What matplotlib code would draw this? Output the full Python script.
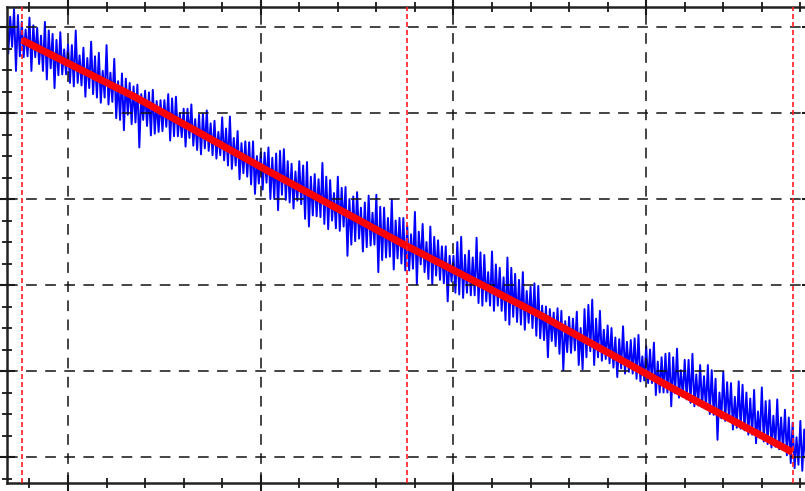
import numpy as np
import matplotlib
matplotlib.use("Agg")
import matplotlib.pyplot as plt
from matplotlib.ticker import MultipleLocator

# noisy signal: upper and lower swings, one pair per time unit
t_start = -16
sig_hi = [52.0, 51.2, 52.1, 51.4, 50.6, 49.7, 51.1, 50.2, 49.9, 49.0,
          50.6, 49.6, 49.2, 48.5, 49.4, 47.4, 48.0, 47.9, 49.6, 46.7,
          47.6, 46.4, 48.3, 46.6, 47.0, 44.9, 47.9, 44.7, 46.3, 43.7,
          44.6, 44.0, 43.5, 43.1, 43.3, 42.2, 42.6, 42.4, 42.7, 41.4,
          41.5, 41.5, 42.2, 41.7, 41.9, 40.0, 40.5, 40.5, 41.0, 39.3,
          39.8, 39.9, 40.3, 38.8, 39.1, 37.8, 39.5, 38.2, 39.6, 37.1,
          37.9, 36.5, 36.7, 36.6, 36.7, 35.0, 35.4, 35.4, 36.0, 34.8,
          35.3, 35.6, 35.8, 34.4, 34.1, 33.2, 34.4, 33.9, 34.3, 32.6,
          32.9, 32.3, 34.2, 32.6, 32.2, 30.7, 32.6, 31.3, 31.4, 30.0,
          30.3, 30.8, 29.0, 29.6, 30.4, 28.4, 30.5, 29.1, 29.0, 27.8,
          29.9, 27.5, 27.8, 27.8, 26.9, 25.9, 28.5, 26.2, 27.1, 25.0,
          26.8, 25.6, 25.2, 24.5, 24.5, 23.4, 23.4, 25.0, 25.6, 23.5,
          24.0, 23.2, 25.5, 23.8, 23.5, 21.5, 23.9, 22.4, 22.0, 20.9,
          23.2, 22.0, 21.3, 20.6, 21.5, 19.3, 19.8, 20.2, 19.9, 17.6,
          17.5, 17.2, 16.8, 17.3, 17.0, 15.8, 16.3, 16.1, 16.9, 15.0,
          17.2, 17.7, 18.3, 16.1, 17.0, 14.8, 15.3, 15.0, 13.9, 13.7,
          15.2, 13.4, 13.6, 13.8, 14.2, 11.7, 12.9, 12.5, 13.3, 11.1,
          11.6, 12.0, 12.1, 11.6, 12.6, 10.1, 11.3, 11.3, 12.0, 9.6,
          10.7, 9.4, 10.7, 10.1, 9.1, 7.5, 9.9, 8.7, 8.6, 7.0,
          8.8, 8.4, 7.5, 6.8, 7.8, 5.3, 8.1, 6.5, 6.6, 4.8,
          6.7, 4.6, 5.5, 4.6, 4.0, 2.3, 4.2, 3.2, 3.1]
sig_lo = [46.9, 47.7, 44.9, 46.6, 46.5, 46.6, 44.9, 46.5, 45.7, 44.9,
          43.9, 45.2, 42.9, 44.4, 44.5, 44.5, 43.5, 43.1, 43.5, 43.2,
          41.9, 42.9, 42.2, 41.8, 41.2, 41.8, 41.0, 41.3, 39.4, 39.2,
          38.0, 39.8, 38.7, 38.9, 36.0, 39.2, 38.5, 37.4, 37.6, 37.8,
          37.9, 38.4, 36.8, 37.3, 37.3, 37.2, 36.1, 37.1, 36.2, 35.7,
          35.2, 35.9, 35.6, 35.1, 34.7, 35.1, 34.5, 33.9, 33.5, 33.9,
          32.3, 33.0, 32.6, 31.7, 30.6, 31.8, 31.1, 31.9, 30.0, 30.0,
          28.7, 30.5, 29.9, 29.6, 28.9, 29.8, 29.4, 27.7, 26.8, 28.1,
          28.0, 27.9, 27.1, 26.5, 27.5, 26.6, 26.3, 26.8, 23.4, 24.7,
          25.1, 25.4, 23.9, 24.4, 24.6, 24.7, 21.5, 22.9, 23.2, 23.3,
          21.8, 23.1, 22.5, 21.7, 21.7, 21.9, 20.1, 22.4, 21.5, 20.7,
          20.1, 21.1, 20.6, 20.2, 18.1, 20.4, 19.1, 18.9, 18.5, 19.1,
          18.8, 18.8, 17.9, 17.6, 18.1, 17.6, 17.0, 17.6, 17.0, 15.9,
          15.4, 16.3, 15.7, 15.4, 14.8, 15.6, 15.0, 14.1, 13.8, 13.6,
          11.6, 13.5, 12.9, 12.0, 10.1, 12.2, 12.1, 12.4, 10.7, 10.2,
          11.6, 12.3, 10.7, 11.6, 11.2, 11.4, 10.9, 10.4, 9.3, 10.3,
          9.7, 9.9, 9.7, 9.1, 8.8, 8.9, 8.6, 8.6, 7.2, 7.5,
          7.5, 7.5, 5.9, 7.4, 6.9, 7.0, 6.7, 6.3, 5.9, 6.0,
          5.8, 5.6, 5.0, 4.9, 2.0, 4.5, 4.2, 4.2, 3.2, 3.4,
          3.3, 3.1, 2.6, 2.6, 1.6, 2.2, 1.8, 1.5, 1.1, 1.2,
          0.9, 0.8, 0.2, -0.7, -1.3, -0.9, -1.6, -1.1, -2.0]

# piecewise fit
fit_x = [-12, 17.4, 52.4, 87.4, 122.5, 156.7, 188]
fit_y = [48.5, 41.86, 33.14, 24.65, 16.51, 8.02, 0.55]

# window boundaries
bounds = [-12, 88, 188]

t_hi = t_start + np.arange(len(sig_hi))
t_lo = t_hi + 0.5
t = np.empty(2 * len(t_hi))
y = np.empty(2 * len(t_hi))
t[0::2], t[1::2] = t_hi, t_lo
y[0::2], y[1::2] = sig_hi, sig_lo

fig = plt.figure(figsize=(8.05, 4.91), dpi=100)
ax = fig.add_axes([7 / 805, 8 / 491, 803 / 805, 476 / 491])

ax.plot(t, y, color="#0000ff", lw=1.4, zorder=2)
ax.plot(fit_x, fit_y, color="#ff0000", lw=5.2, solid_capstyle="butt", zorder=4)
for b in bounds:
    ax.axvline(b, color="#ff2020", lw=1.2, ls=(0, (3, 1.8)), zorder=5)

ax.set_xlim(-15.83, 192.5)
ax.set_ylim(-3.02, 52.33)
ax.xaxis.set_major_locator(MultipleLocator(50))
ax.xaxis.set_minor_locator(MultipleLocator(10))
ax.yaxis.set_major_locator(MultipleLocator(10))
ax.yaxis.set_minor_locator(MultipleLocator(2.5))

ax.grid(True, which="major", color="#111111", lw=1.1, ls=(0, (7, 5.5)), zorder=3)
ax.set_axisbelow(False)

ax.tick_params(which="both", direction="inout", top=True, right=True,
               labelbottom=False, labelleft=False, colors="#1a1a1a")
ax.tick_params(which="major", length=11.5, width=1.5)
ax.tick_params(which="minor", length=6.5, width=1.3)
for s in ax.spines.values():
    s.set_linewidth(1.8)
    s.set_color("#222222")

fig.savefig("out.png", dpi=100)
